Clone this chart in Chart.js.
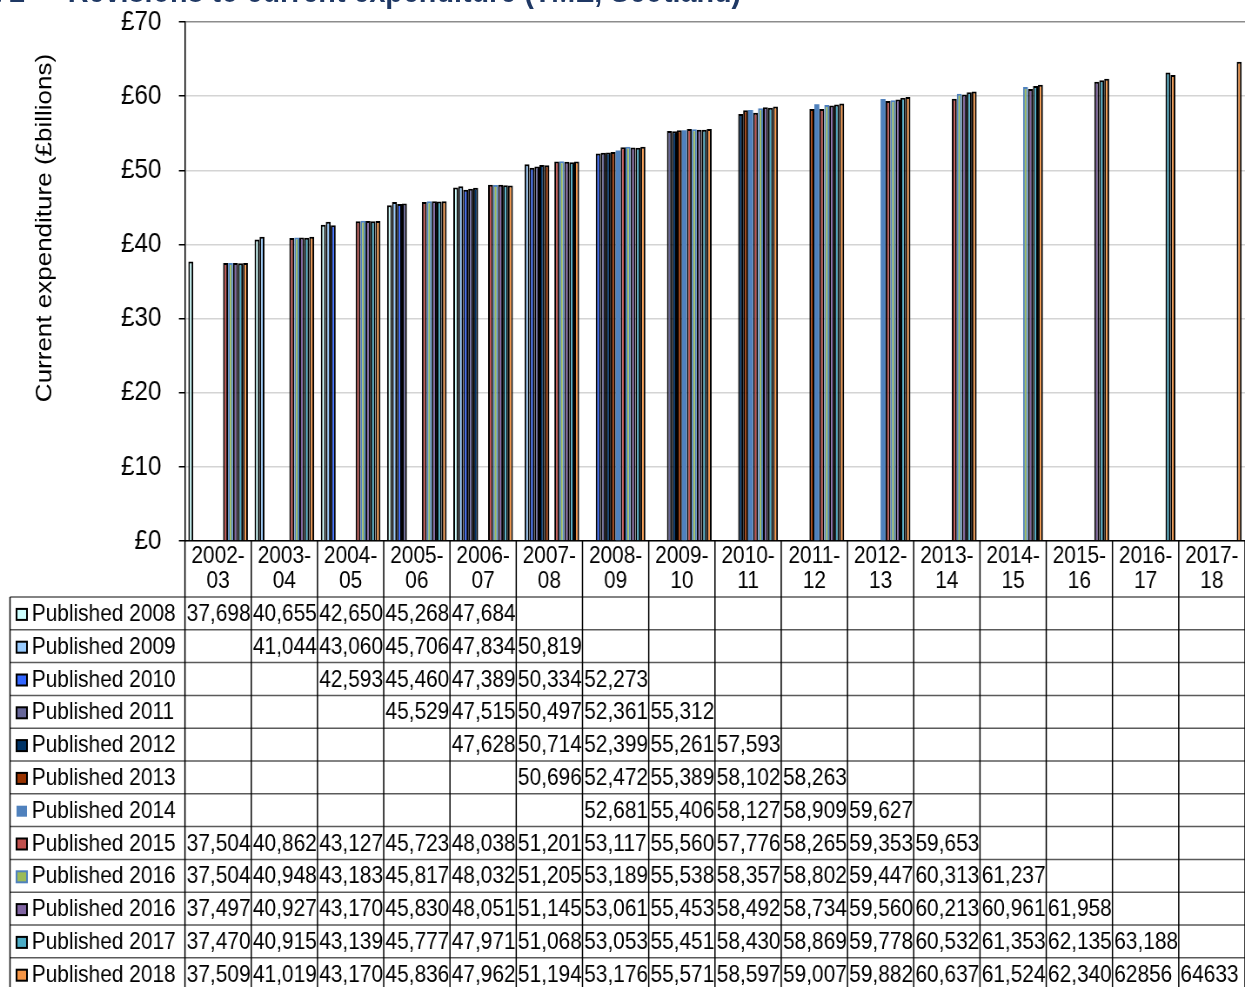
<!DOCTYPE html>
<html lang="en">
<head>
<meta charset="UTF-8" />
<title>Revisions to current expenditure (TME, Scotland)</title>
<script src="https://cdn.jsdelivr.net/npm/chart.js@4"></script>
<style>
  body { margin: 0; overflow: hidden; background: #fff; }
  #wrap { position: relative; width: 1431px; height: 987px; transform: scaleX(0.87); transform-origin: 0 0; }
  .title { position: absolute; top: -26px; font: bold 33px 'Liberation Sans', Arial, sans-serif; color: #1f3864; line-height: 33px; white-space: pre; }
</style>
</head>
<body>
<div id="wrap">
  <div class="title" style="right: 1402px;">Chart 2</div>
  <div class="title" style="left: 78px;">Revisions to current expenditure (TME, Scotland)</div>
  <canvas id="chart" width="1431" height="987"></canvas>
</div>
<script>
  const FONT = "'Liberation Sans', Arial, sans-serif";
  const yTitle = "Current expenditure (£billions)";

  const categories = ["2002-03", "2003-04", "2004-05", "2005-06", "2006-07", "2007-08", "2008-09", "2009-10",
    "2010-11", "2011-12", "2012-13", "2013-14", "2014-15", "2015-16", "2016-17", "2017-18"];

  // £ million, as in the data table
  const pub2008 = [37698, 40655, 42650, 45268, 47684, null, null, null, null, null, null, null, null, null, null, null];
  const pub2009 = [null, 41044, 43060, 45706, 47834, 50819, null, null, null, null, null, null, null, null, null, null];
  const pub2010 = [null, null, 42593, 45460, 47389, 50334, 52273, null, null, null, null, null, null, null, null, null];
  const pub2011 = [null, null, null, 45529, 47515, 50497, 52361, 55312, null, null, null, null, null, null, null, null];
  const pub2012 = [null, null, null, null, 47628, 50714, 52399, 55261, 57593, null, null, null, null, null, null, null];
  const pub2013 = [null, null, null, null, null, 50696, 52472, 55389, 58102, 58263, null, null, null, null, null, null];
  const pub2014 = [null, null, null, null, null, null, 52681, 55406, 58127, 58909, 59627, null, null, null, null, null];
  const pub2015 = [37504, 40862, 43127, 45723, 48038, 51201, 53117, 55560, 57776, 58265, 59353, 59653, null, null, null, null];
  const pub2016a = [37504, 40948, 43183, 45817, 48032, 51205, 53189, 55538, 58357, 58802, 59447, 60313, 61237, null, null, null];
  const pub2016b = [37497, 40927, 43170, 45830, 48051, 51145, 53061, 55453, 58492, 58734, 59560, 60213, 60961, 61958, null, null];
  const pub2017 = [37470, 40915, 43139, 45777, 47971, 51068, 53053, 55451, 58430, 58869, 59778, 60532, 61353, 62135, 63188, null];
  const pub2018 = [37509, 41019, 43170, 45836, 47962, 51194, 53176, 55571, 58597, 59007, 59882, 60637, 61524, 62340, 62856, 64633];

  const seriesNames = ["Published 2008", "Published 2009", "Published 2010", "Published 2011", "Published 2012",
    "Published 2013", "Published 2014", "Published 2015", "Published 2016", "Published 2016", "Published 2017", "Published 2018"];
  const seriesData = [pub2008, pub2009, pub2010, pub2011, pub2012, pub2013, pub2014, pub2015, pub2016a, pub2016b, pub2017, pub2018];
  // cells shown without thousands separator in the source table: [row, column]
  const plainCells = [[11, 14], [11, 15]];

  const yTicks = [0, 10000, 20000, 30000, 40000, 50000, 60000, 70000];

  const fills = ["#ccffff", "#99ccff", "#3366ff", "#666699", "#003366", "#993300",
    "#4f81bd", "#c0504d", "#9bbb59", "#8064a2", "#4bacc6", "#f79646"];
  const borders = ["#000", "#000", "#000", "#000", "#000", "#000",
    null, "#000", "#4f81bd", "#000", "#000", "#000"];

  function fmt(v, r, c) {
    if (v == null) return "";
    if (plainCells.some(p => p[0] === r && p[1] === c)) return String(v);
    return v.toLocaleString("en-GB");
  }

  const tablePlugin = {
    id: "dataTable",
    afterDraw(chart) {
      const { ctx, chartArea } = chart;
      const colW = (chartArea.right - chartArea.left) / categories.length;
      const tableTop = 597;
      const rowH = 32.8;
      const legendLeft = 11.5;
      const W = chart.width, H = chart.height;

      const line = (x1, y1, x2, y2) => {
        ctx.beginPath(); ctx.moveTo(x1, y1); ctx.lineTo(x2, y2); ctx.stroke();
      };

      ctx.save();
      // axis title
      ctx.save();
      ctx.translate(51.7, 228);
      ctx.rotate(-Math.PI / 2);
      ctx.font = "26px " + FONT;
      ctx.fillStyle = "#000";
      ctx.textAlign = "center";
      ctx.textBaseline = "middle";
      ctx.fillText(yTitle, 0, 0);
      ctx.restore();

      // grid of the table
      ctx.lineWidth = 1.5;
      ctx.strokeStyle = "#5a5a5a";
      for (let r = 0; r <= seriesNames.length; r++) {
        const y = tableTop + r * rowH;
        line(legendLeft, y, W, y);
      }
      ctx.strokeStyle = "#000";
      line(legendLeft, tableTop, legendLeft, H);
      for (let c = 0; c <= categories.length; c++) {
        const x = chartArea.left + c * colW;
        line(x, chartArea.bottom, x, H);
      }

      // legend keys and values
      ctx.font = "24px " + FONT;
      ctx.fillStyle = "#000";
      ctx.textBaseline = "middle";
      ctx.textAlign = "left";
      seriesNames.forEach((name, r) => {
        const cy = tableTop + r * rowH + rowH / 2 + 1;
        ctx.fillStyle = fills[r];
        ctx.fillRect(19, cy - 5.5, 12, 11);
        if (borders[r]) {
          ctx.strokeStyle = borders[r];
          ctx.lineWidth = 2;
          ctx.strokeRect(19, cy - 5.5, 12, 11);
        }
        ctx.fillStyle = "#000";
        ctx.fillText(name, 36.5, cy);
        seriesData[r].forEach((v, c) => {
          const t = fmt(v, r, c);
          if (t) ctx.fillText(t, chartArea.left + c * colW + 2, cy);
        });
      });
      ctx.restore();
    }
  };

  const datasets = seriesData.map((d, i) => ({
    label: seriesNames[i],
    data: d,
    backgroundColor: fills[i],
    borderColor: borders[i] || fills[i],
    borderWidth: borders[i] ? 2 : 0,
    categoryPercentage: 0.9,
    barPercentage: 1.0
  }));

  Chart.defaults.font.family = FONT;
  Chart.defaults.color = "#000";

  new Chart(document.getElementById("chart"), {
    type: "bar",
    data: { labels: categories, datasets: datasets },
    plugins: [tablePlugin],
    options: {
      responsive: false,
      animation: false,
      layout: { padding: { top: 22, left: 0, right: 0, bottom: 0 } },
      plugins: {
        legend: { display: false },
        tooltip: { enabled: false },
        title: { display: false }
      },
      scales: {
        x: {
          offset: true,
          grid: { display: false, drawTicks: false },
          border: { display: true, color: "#000", width: 1.5 },
          ticks: {
            autoSkip: false,
            maxRotation: 0,
            padding: 3,
            color: "#000",
            font: { size: 24, lineHeight: 1.05 },
            callback: (v, i) => [categories[i].slice(0, 5), categories[i].slice(5)]
          },
          afterFit: (s) => { s.height = 987 - 541; }
        },
        y: {
          min: 0,
          max: 70000,
          afterBuildTicks: (s) => { s.ticks = yTicks.map(v => ({ value: v })); },
          grid: {
            color: (c) => c.tick && c.tick.value === 70000 ? "#8c8c8c" : "#d4d4d4",
            lineWidth: 1.5,
            drawTicks: true,
            tickLength: 7,
            tickColor: "#000"
          },
          border: { display: true, color: "#000", width: 1.5 },
          ticks: {
            padding: 20,
            color: "#000",
            font: { size: 28 },
            callback: (v) => "£" + v / 1000
          },
          afterFit: (s) => { s.width = 212.6; s.paddingTop = 0; s.paddingBottom = 0; }
        }
      }
    }
  });
</script>
</body>
</html>
